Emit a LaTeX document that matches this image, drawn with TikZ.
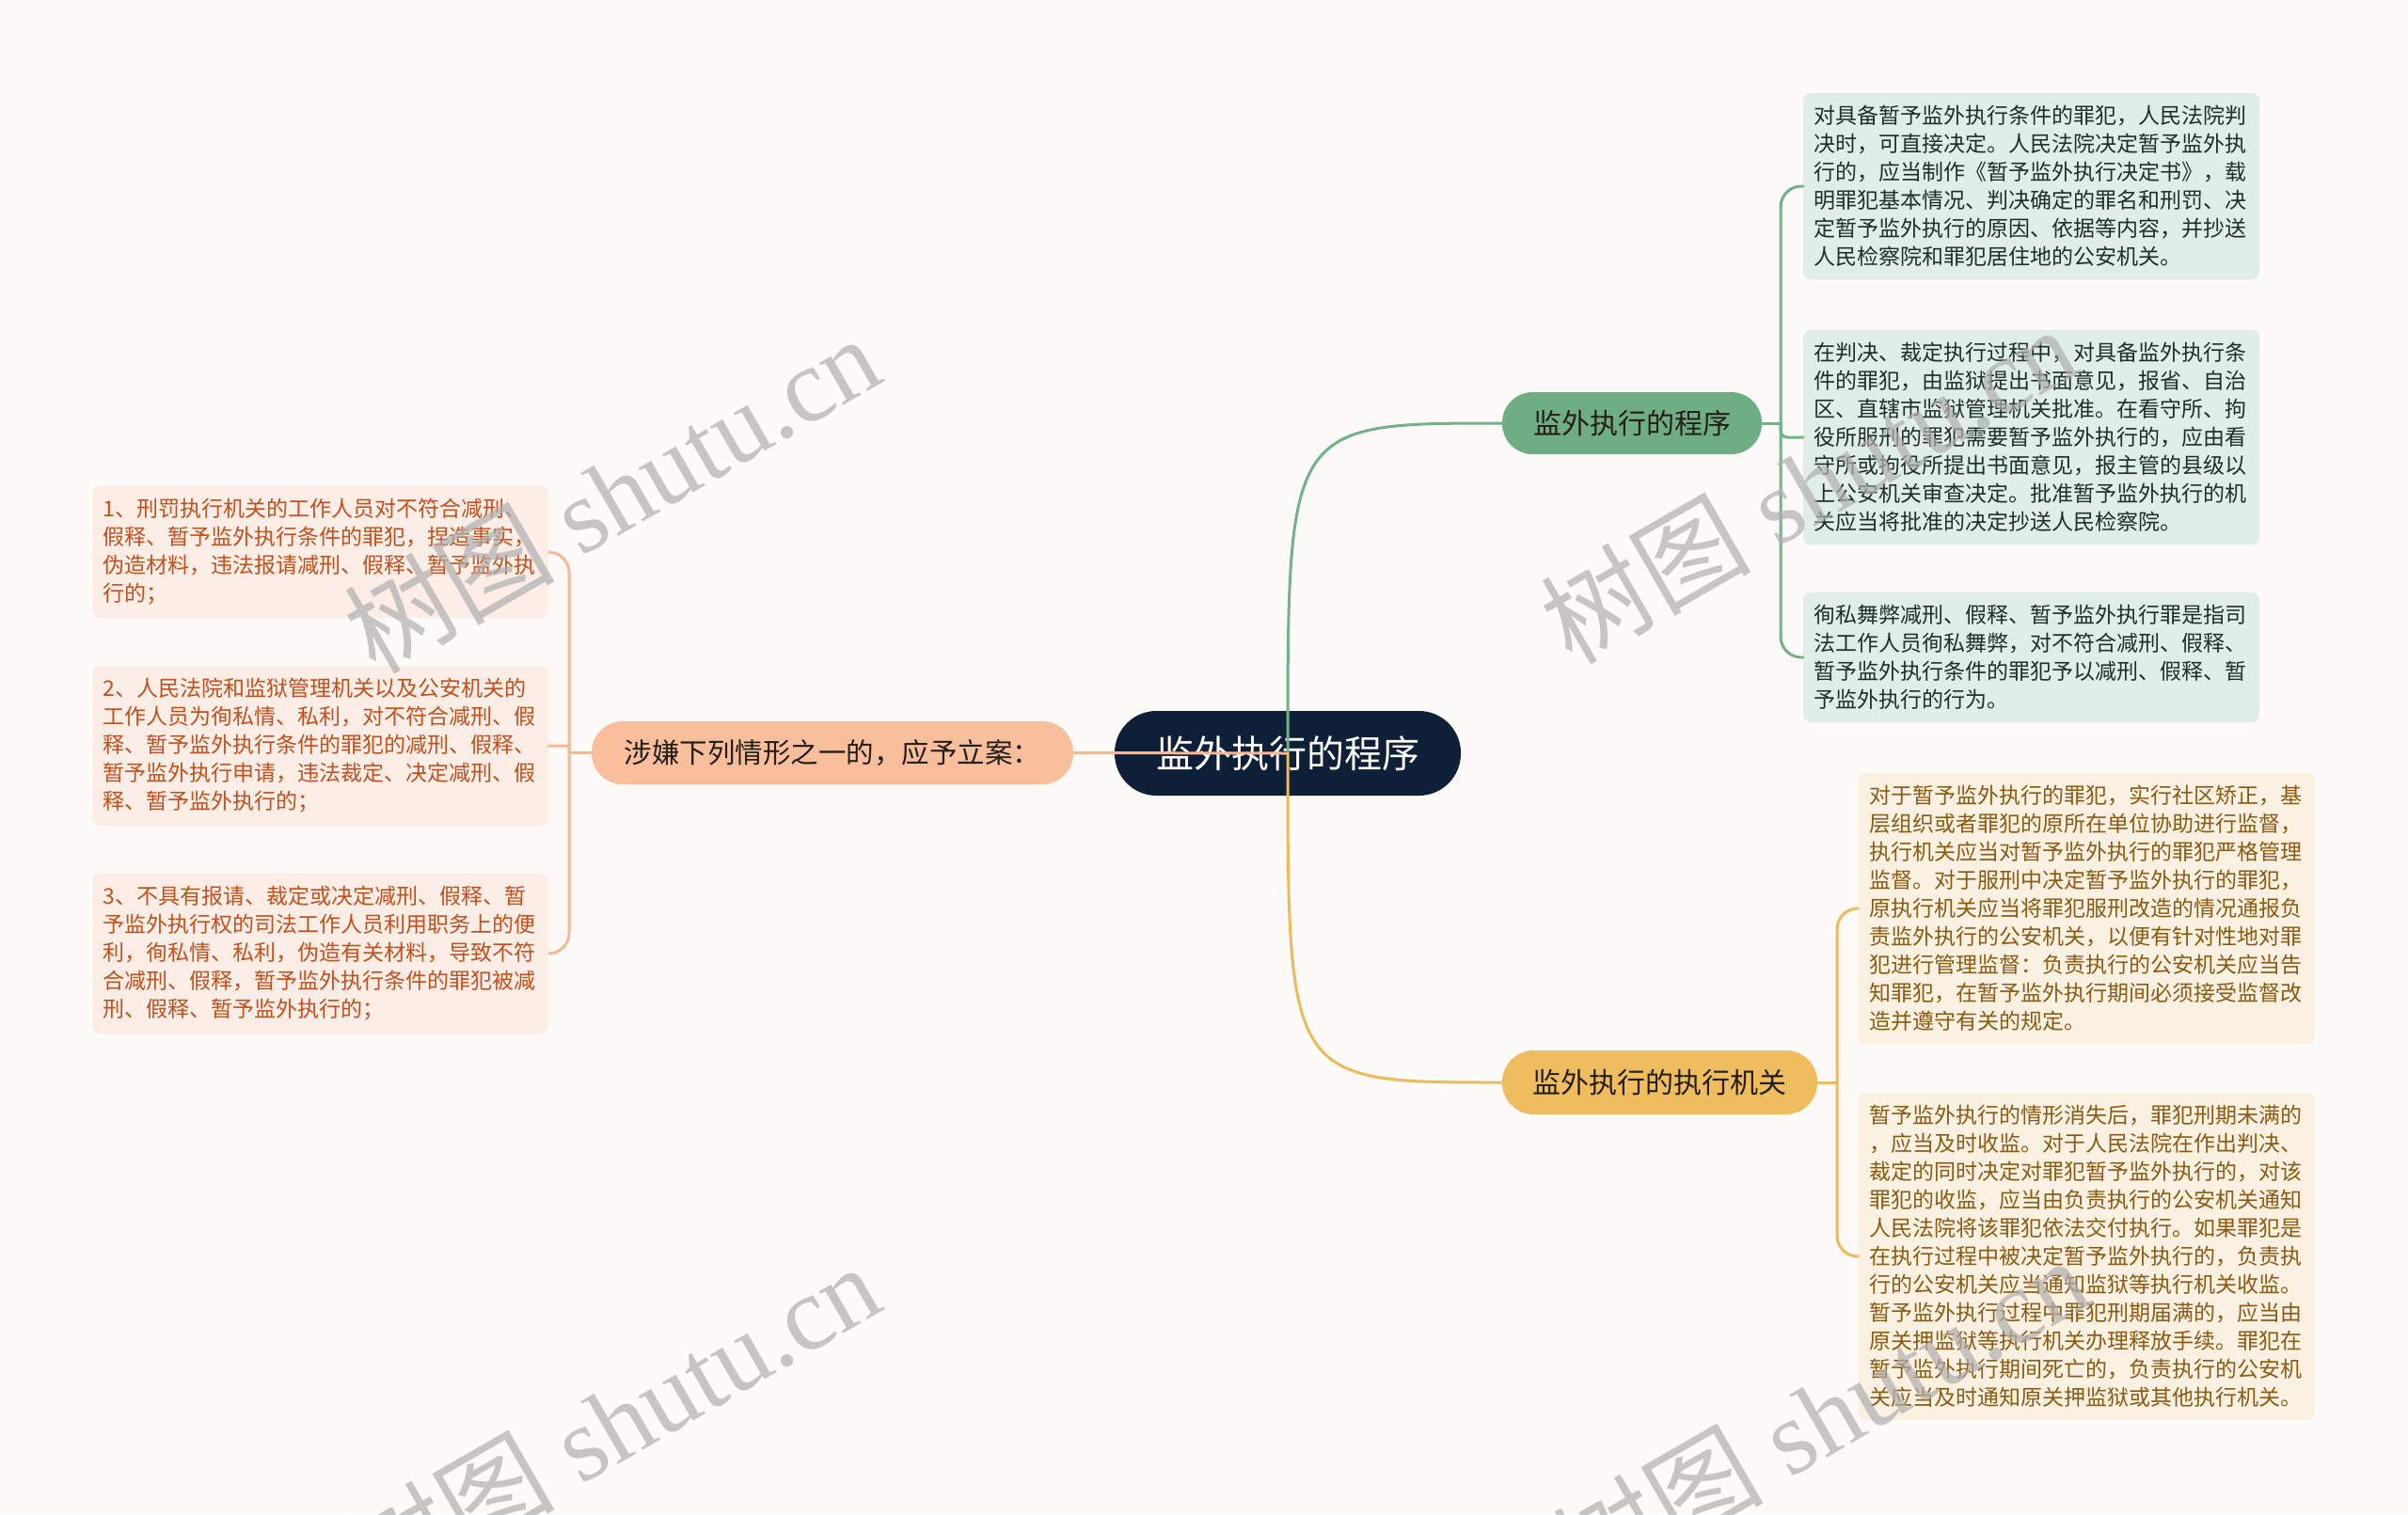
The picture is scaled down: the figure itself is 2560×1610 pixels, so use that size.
\documentclass[tikz,border=0pt]{standalone}
\usepackage{fontspec}
\newfontfamily\cjk{Noto Sans CJK SC}
\newfontfamily\wmserif{Liberation Serif}
\definecolor{bg}{RGB}{253,250,248}
\definecolor{navy}{RGB}{14,31,56}
\definecolor{peach}{RGB}{249,190,155}
\definecolor{peachline}{RGB}{247,184,150}
\definecolor{gmain}{RGB}{111,174,132}
\definecolor{gline}{RGB}{114,177,138}
\definecolor{omain}{RGB}{239,189,94}
\definecolor{oline}{RGB}{237,186,94}
\definecolor{gleaf}{RGB}{224,238,229}
\definecolor{gtext}{RGB}{30,48,38}
\definecolor{oleaf}{RGB}{251,241,226}
\definecolor{otext}{RGB}{139,90,18}
\definecolor{pleaf}{RGB}{252,238,230}
\definecolor{ptext}{RGB}{193,80,28}
\definecolor{maintext}{RGB}{35,30,25}
\definecolor{wm}{RGB}{175,175,175}
\begin{document}
\begin{tikzpicture}[x=1pt,y=-1pt,
  leaf/.style={rounded corners=8pt, align=left, inner xsep=11.5pt, inner ysep=13.5pt,
    text width=462pt, font=\cjk\fontsize{23}{30}\selectfont},
  gleafbox/.style={leaf, fill=gleaf, text=gtext},
  oleafbox/.style={leaf, fill=oleaf, text=otext},
  pleafbox/.style={leaf, fill=pleaf, text=ptext},
  topic/.style={inner sep=0pt, text=maintext, font=\cjk\fontsize{30}{30}\selectfont},
  conn/.style={line width=3pt, line cap=round},
  wmark/.style={rotate=30, text=wm, opacity=0.7, inner sep=0pt,
    font=\wmserif\fontsize{112}{112}\selectfont}
]
\path[use as bounding box] (0,0) rectangle (2560,1610);
\clip (0,0) rectangle (2560,1610);
\fill[bg] (0,0) rectangle (2560,1610);

% central
\node[fill=navy, text=white, inner sep=0pt, minimum width=368pt, minimum height=90pt,
  rounded corners=44.5pt, font=\cjk\fontsize{40}{40}\selectfont] (c) at (1369,801) {监外执行的程序};

% main topics
\node[topic, fill=peach, minimum width=512pt, minimum height=67pt, rounded corners=33pt,
  font=\cjk\fontsize{29.5}{29.5}\selectfont] (ln) at (885,800.5) {涉嫌下列情形之一的，应予立案：};
\node[topic, fill=gmain, minimum width=276pt, minimum height=66pt, rounded corners=32.5pt] (gm) at (1735,450) {监外执行的程序};
\node[topic, fill=omain, minimum width=335pt, minimum height=68pt, rounded corners=33.5pt] (om) at (1764.5,1151) {监外执行的执行机关};

% green leaves
\node[gleafbox] (g1) at (2159.5,198) {对具备暂予监外执行条件的罪犯，人民法院判\\决时，可直接决定。人民法院决定暂予监外执\\行的，应当制作《暂予监外执行决定书》，载\\明罪犯基本情况、判决确定的罪名和刑罚、决\\定暂予监外执行的原因、依据等内容，并抄送\\人民检察院和罪犯居住地的公安机关。};
\node[gleafbox] (g2) at (2159.5,465) {在判决、裁定执行过程中，对具备监外执行条\\件的罪犯，由监狱提出书面意见，报省、自治\\区、直辖市监狱管理机关批准。在看守所、拘\\役所服刑的罪犯需要暂予监外执行的，应由看\\守所或拘役所提出书面意见，报主管的县级以\\上公安机关审查决定。批准暂予监外执行的机\\关应当将批准的决定抄送人民检察院。};
\node[gleafbox] (g3) at (2159.5,699) {徇私舞弊减刑、假释、暂予监外执行罪是指司\\法工作人员徇私舞弊，对不符合减刑、假释、\\暂予监外执行条件的罪犯予以减刑、假释、暂\\予监外执行的行为。};

% orange leaves
\node[oleafbox] (o1) at (2218,966) {对于暂予监外执行的罪犯，实行社区矫正，基\\层组织或者罪犯的原所在单位协助进行监督，\\执行机关应当对暂予监外执行的罪犯严格管理\\监督。对于服刑中决定暂予监外执行的罪犯，\\原执行机关应当将罪犯服刑改造的情况通报负\\责监外执行的公安机关，以便有针对性地对罪\\犯进行管理监督：负责执行的公安机关应当告\\知罪犯，在暂予监外执行期间必须接受监督改\\造并遵守有关的规定。};
\node[oleafbox] (o2) at (2218,1336) {暂予监外执行的情形消失后，罪犯刑期未满的\\，应当及时收监。对于人民法院在作出判决、\\裁定的同时决定对罪犯暂予监外执行的，对该\\罪犯的收监，应当由负责执行的公安机关通知\\人民法院将该罪犯依法交付执行。如果罪犯是\\在执行过程中被决定暂予监外执行的，负责执\\行的公安机关应当通知监狱等执行机关收监。\\暂予监外执行过程中罪犯刑期届满的，应当由\\原关押监狱等执行机关办理释放手续。罪犯在\\暂予监外执行期间死亡的，负责执行的公安机\\关应当及时通知原关押监狱或其他执行机关。};

% left leaves
\node[pleafbox] (l1) at (340.5,587) {1、刑罚执行机关的工作人员对不符合减刑、\\假释、暂予监外执行条件的罪犯，捏造事实，\\伪造材料，违法报请减刑、假释、暂予监外执\\行的；};
\node[pleafbox] (l2) at (340.5,793) {2、人民法院和监狱管理机关以及公安机关的\\工作人员为徇私情、私利，对不符合减刑、假\\释、暂予监外执行条件的罪犯的减刑、假释、\\暂予监外执行申请，违法裁定、决定减刑、假\\释、暂予监外执行的；};
\node[pleafbox] (l3) at (340.5,1014) {3、不具有报请、裁定或决定减刑、假释、暂\\予监外执行权的司法工作人员利用职务上的便\\利，徇私情、私利，伪造有关材料，导致不符\\合减刑、假释，暂予监外执行条件的罪犯被减\\刑、假释、暂予监外执行的；};

% main connectors
\draw[conn, peachline] (c.center) -- (ln.east);
\draw[conn, gline] (c.center) .. controls (c.center |- gm.west) .. (gm.west);
\draw[conn, oline] (c.center) .. controls (c.center |- om.west) .. (om.west);

% green bracket
\coordinate (gb) at (1893,450);
\draw[conn, gline] (gm.east) -- (gb);
\draw[conn, gline, rounded corners=22pt] (gb) |- (g1.west);
\draw[conn, gline, rounded corners=22pt] (gb) |- (g3.west);
\draw[conn, gline, rounded corners=7pt] (gb) |- (g2.west);

% orange bracket
\coordinate (ob) at (1953,1151);
\draw[conn, oline] (om.east) -- (ob);
\draw[conn, oline, rounded corners=22pt] (ob) |- (o1.west);
\draw[conn, oline, rounded corners=22pt] (ob) |- (o2.west);

% left bracket
\coordinate (lb) at (605,800.5);
\draw[conn, peachline] (ln.west) -- (lb);
\draw[conn, peachline, rounded corners=22pt] (lb) |- (l1.east);
\draw[conn, peachline, rounded corners=3pt] (lb) |- (l2.east);
\draw[conn, peachline, rounded corners=22pt] (lb) |- (l3.east);

% watermarks
\node[wmark] (w1) at (650,525) {{\cjk 树图} shutu.cn};
\node[wmark] (w2) at (1922,515) {{\cjk 树图} shutu.cn};
\node[wmark] (w3) at (650,1512) {{\cjk 树图} shutu.cn};
\node[wmark] (w4) at (1935,1505) {{\cjk 树图} shutu.cn};
\end{tikzpicture}
\end{document}
